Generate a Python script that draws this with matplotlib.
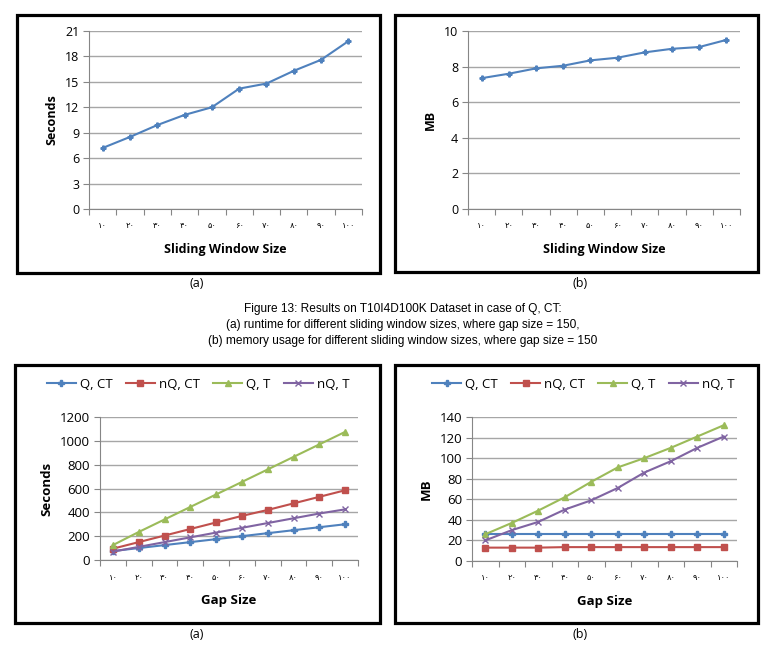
import matplotlib.pyplot as plt
from matplotlib.patches import Rectangle
import numpy as np

plt.rcParams['font.family'] = ['Open Sans', 'DejaVu Sans']

# data
sizes = ['۱۰', '۲۰', '۳۰', '۴۰', '۵۰', '۶۰', '۷۰', '۸۰', '۹۰', '۱۰۰']
runtime_win = [7.2, 8.5, 9.9, 11.1, 12.0, 14.2, 14.8, 16.3, 17.6, 19.8]
memory_win = [7.35, 7.6, 7.9, 8.05, 8.35, 8.5, 8.8, 9.0, 9.1, 9.5]

series_names = ['Q, CT', 'nQ, CT', 'Q, T', 'nQ, T']
runtime_gap = {
    'Q, CT': [75, 100, 125, 150, 175, 200, 225, 250, 275, 300],
    'nQ, CT': [95, 150, 205, 260, 315, 370, 420, 475, 530, 585],
    'Q, T': [125, 235, 340, 445, 550, 655, 760, 865, 970, 1075],
    'nQ, T': [70, 110, 150, 190, 230, 270, 310, 350, 390, 425],
}
memory_gap = {
    'Q, CT': [26.5, 26.5, 26.5, 26.5, 26.5, 26.5, 26.5, 26.5, 26.5, 26.5],
    'nQ, CT': [13, 13, 13, 13.5, 13.5, 13.5, 13.5, 13.5, 13.5, 13.5],
    'Q, T': [26, 37, 49, 62, 77, 91, 100, 110, 121, 132],
    'nQ, T': [20, 30, 38, 50, 59, 71, 86, 97, 110, 121],
}
colors = {'Q, CT': '#4F81BD', 'nQ, CT': '#C0504D', 'Q, T': '#9BBB59', 'nQ, T': '#8064A2'}
markers = {'Q, CT': 'P', 'nQ, CT': 's', 'Q, T': '^', 'nQ, T': 'x'}

W, H = 774, 649
fig = plt.figure(figsize=(W / 100, H / 100), dpi=100)


def px_axes(x0, y0, x1, y1):
    return fig.add_axes([x0 / W, 1 - y1 / H, (x1 - x0) / W, (y1 - y0) / H])


def frame(x0, y0, x1, y1):
    fig.patches.append(Rectangle((x0 / W, 1 - y1 / H), (x1 - x0) / W, (y1 - y0) / H,
                                 transform=fig.transFigure, fill=False,
                                 edgecolor='black', linewidth=2.3, zorder=0))


def excel_style(ax, ymax, ystep, ylabel, xlabel, fs=9):
    x = np.arange(1, len(sizes) + 1)
    ax.set_xlim(0.5, len(sizes) + 0.5)
    ax.set_ylim(0, ymax)
    ax.set_yticks(np.arange(0, ymax + ystep / 2, ystep))
    ax.yaxis.grid(True, color='#A6A6A6', linewidth=1)
    ax.set_axisbelow(True)
    for s in ['top', 'right']:
        ax.spines[s].set_visible(False)
    ax.spines['left'].set_color('#868686')
    ax.spines['bottom'].set_color('#868686')
    ax.set_xticks(np.arange(0.5, len(sizes) + 1, 1))
    ax.set_xticklabels([])
    ax.set_xticks(x, minor=True)
    ax.set_xticklabels(sizes, minor=True, fontsize=6, family=['DejaVu Sans'])
    ax.tick_params(axis='x', which='major', length=4, color='#868686', direction='out')
    ax.tick_params(axis='x', which='minor', length=0, pad=9)
    ax.tick_params(axis='y', length=4, color='#868686', labelsize=fs, pad=3)
    ax.set_ylabel(ylabel, fontsize=fs, fontweight='bold', labelpad=5)
    ax.set_xlabel(xlabel, fontsize=fs, fontweight='bold', labelpad=9)
    return x


# top left
frame(17, 15, 380, 273)
ax = px_axes(89, 31, 362, 209)
x = excel_style(ax, 21, 3, 'Seconds', 'Sliding Window Size')
ax.plot(x, runtime_win, color='#4F81BD', marker='P', markersize=3.5, linewidth=1.5)

# top right
frame(395, 15, 758, 272)
ax = px_axes(468, 31, 740, 209)
x = excel_style(ax, 10, 2, 'MB', 'Sliding Window Size')
ax.plot(x, memory_win, color='#4F81BD', marker='P', markersize=3.5, linewidth=1.5)

fig.text(197 / W, 1 - 283 / H, '(a)', ha='center', va='center', fontsize=9)
fig.text(580 / W, 1 - 283 / H, '(b)', ha='center', va='center', fontsize=9)

cap = ['Figure 13: Results on T10I4D100K Dataset in case of Q, CT:',
       '(a) runtime for different sliding window sizes, where gap size = 150,',
       '(b) memory usage for different sliding window sizes, where gap size = 150']
for i, line in enumerate(cap):
    fig.text(403 / W, 1 - (309 + 16 * i) / H, line, ha='center', va='center',
             fontsize=8.6, family=['Liberation Sans', 'DejaVu Sans'])

# bottom left
frame(15, 365, 380, 623)
ax = px_axes(100, 417, 358, 560)
x = excel_style(ax, 1200, 200, 'Seconds', 'Gap Size', fs=9.5)
for name in series_names:
    ax.plot(x, runtime_gap[name], color=colors[name], marker=markers[name],
            markersize=4, linewidth=1.5, label=name)
ax.legend(loc='lower center', bbox_to_anchor=(0.38, 1.1), ncol=4, frameon=False,
          fontsize=9.5, handlelength=2.2, columnspacing=1.0, handletextpad=0.3)

# bottom right
frame(395, 365, 758, 623)
ax = px_axes(472, 417, 737, 561)
x = excel_style(ax, 140, 20, 'MB', 'Gap Size', fs=9.5)
for name in series_names:
    ax.plot(x, memory_gap[name], color=colors[name], marker=markers[name],
            markersize=4, linewidth=1.5, label=name)
ax.legend(loc='lower center', bbox_to_anchor=(0.42, 1.1), ncol=4, frameon=False,
          fontsize=9.5, handlelength=2.2, columnspacing=1.0, handletextpad=0.3)

fig.text(197 / W, 1 - 635 / H, '(a)', ha='center', va='center', fontsize=9)
fig.text(580 / W, 1 - 635 / H, '(b)', ha='center', va='center', fontsize=9)

fig.savefig('out.png', dpi=100)
